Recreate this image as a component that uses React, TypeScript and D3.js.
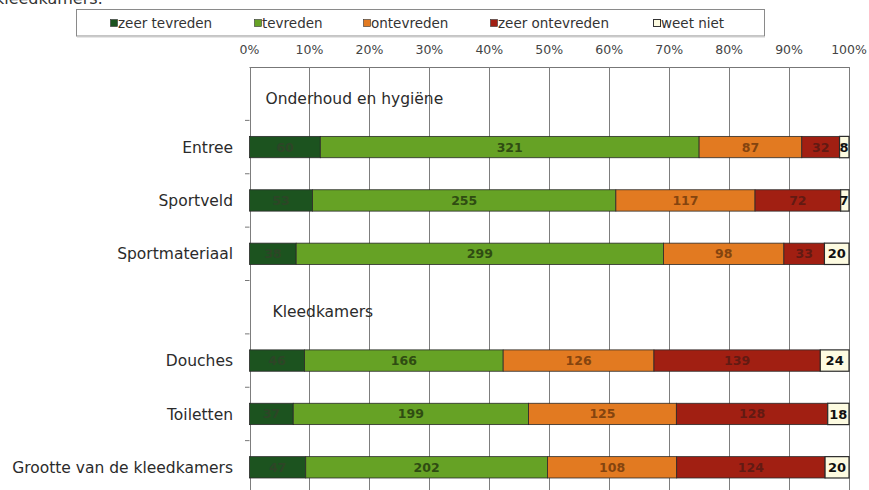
import React from "react";
import * as d3 from "d3";

const groups = ["Onderhoud en hygiëne", "Kleedkamers"];
const items = ["Entree", "Sportveld", "Sportmateriaal", "Douches", "Toiletten", "Grootte van de kleedkamers"];
const itemGroup = [0, 0, 0, 1, 1, 1];
const seriesNames = ["zeer tevreden", "tevreden", "ontevreden", "zeer ontevreden", "weet niet"];
const zeerTevreden = [60, 53, 38, 46, 37, 47];
const tevreden = [321, 255, 299, 166, 199, 202];
const ontevreden = [87, 117, 98, 126, 125, 108];
const zeerOntevreden = [32, 72, 33, 139, 128, 124];
const weetNiet = [8, 7, 20, 24, 18, 20];
const tickValues = [0, 0.1, 0.2, 0.3, 0.4, 0.5, 0.6, 0.7, 0.8, 0.9, 1];
const tickLabels = ["0%", "10%", "20%", "30%", "40%", "50%", "60%", "70%", "80%", "90%", "100%"];

const fills = ["#1c531f", "#66a225", "#e27a21", "#a11f12", "#fdfbe1"];
const labelColors = ["#2d4527", "#2f4c12", "#84440f", "#621a13", "#111111"];
const legendX = [110, 254, 363, 490, 653];
const headerIndent = [16, 23];

const W = 869;
const H = 490;
const FONT = "'DejaVu Sans', Arial, sans-serif";

export default function App() {
  const seriesData = [zeerTevreden, tevreden, ontevreden, zeerOntevreden, weetNiet];

  // rows: group header followed by its items
  const rows: { key: string; type: "header" | "item"; label: string; idx: number }[] = [];
  groups.forEach((g, gi) => {
    rows.push({ key: "g" + gi, type: "header", label: g, idx: gi });
    items.forEach((it, ii) => {
      if (itemGroup[ii] === gi) rows.push({ key: "i" + ii, type: "item", label: it, idx: ii });
    });
  });

  const x0 = 249.5;
  const x1 = 849;
  const yTop = 67;
  const yBot = 494;

  const x = d3.scaleLinear().domain([0, 1]).range([x0, x1]);
  const y = d3.scaleBand().domain(rows.map((r) => r.key)).range([yTop, yBot]).padding(0);
  const barH = y.bandwidth() * 0.4;

  const table = items.map((it, i) => {
    const o: any = { item: it };
    seriesNames.forEach((s, si) => (o[s] = seriesData[si][i]));
    return o;
  });
  const totals = items.map((_, i) => d3.sum(seriesData, (s) => s[i]));
  const stacked = d3.stack().keys(seriesNames)(table);

  const boundaries = rows.slice(1).map((r) => y(r.key) as number);

  return (
    <svg
      width={W}
      height={H}
      style={{ position: "absolute", left: 0, top: 0, background: "#fff" }}
      fontFamily={FONT}
    >
      <rect x={0} y={0} width={W} height={H} fill="#fff" />
      {/* cropped title */}
      <text x={103} y={4} textAnchor="end" fontSize={16} fill="#333">
        kleedkamers:
      </text>

      {/* legend */}
      <rect x={76.5} y={9.5} width={688} height={26.5} fill="#fff" stroke="#8a8a8a" strokeWidth={1} />
      <line x1={77} x2={765} y1={37} y2={37} stroke="#d0d0d0" strokeWidth={1} />
      {seriesNames.map((s, si) => (
        <g key={s}>
          <rect
            x={legendX[si] + 0.5}
            y={19.5}
            width={7}
            height={7}
            fill={fills[si]}
            stroke="#333"
            strokeWidth={si === 4 ? 1 : 0.6}
          />
          <text x={legendX[si] + 8} y={28} fontSize={13.5} fill="#333">
            {s}
          </text>
        </g>
      ))}

      {/* top tick labels */}
      {tickValues.map((t, i) => (
        <text key={t} x={x(t)} y={54} textAnchor="middle" fontSize={12.5} fill="#444">
          {tickLabels[i]}
        </text>
      ))}

      {/* grid */}
      <line x1={x0} x2={x1} y1={yTop + 0.5} y2={yTop + 0.5} stroke="#777" strokeWidth={1} />
      {tickValues.map((t) => (
        <line
          key={"g" + t}
          x1={Math.round(x(t)) + 0.5}
          x2={Math.round(x(t)) + 0.5}
          y1={yTop}
          y2={yBot}
          stroke="#7d7d7d"
          strokeWidth={1}
        />
      ))}
      {boundaries.map((b, i) => (
        <line key={"t" + i} x1={245} x2={x0} y1={b} y2={b} stroke="#777" strokeWidth={1} />
      ))}

      {/* row labels */}
      {rows.map((r) =>
        r.type === "header" ? (
          <text
            key={r.key}
            x={x0 + headerIndent[r.idx]}
            y={(y(r.key) as number) + y.bandwidth() / 2 + 10}
            fontSize={15.5}
            fill="#2b2b2b"
          >
            {r.label}
          </text>
        ) : (
          <text
            key={r.key}
            x={233}
            y={(y(r.key) as number) + y.bandwidth() / 2}
            dy="0.36em"
            textAnchor="end"
            fontSize={15.5}
            fill="#2b2b2b"
          >
            {r.label}
          </text>
        )
      )}

      {/* bars */}
      {stacked.map((layer, si) => (
        <g key={layer.key}>
          {layer.map((d, i) => {
            const key = "i" + i;
            const yc = (y(key) as number) + y.bandwidth() / 2;
            const xa = x(d[0] / totals[i]);
            const xb = x(d[1] / totals[i]);
            return (
              <g key={key}>
                <rect
                  x={xa}
                  y={yc - barH / 2}
                  width={xb - xa}
                  height={barH}
                  fill={fills[si]}
                  stroke="#2a2a2a"
                  strokeWidth={si === 4 ? 1.2 : 0.8}
                />
                <text
                  x={si === 4 ? Math.min((xa + xb) / 2, x1 - 5) : (xa + xb) / 2}
                  y={yc}
                  dy="0.36em"
                  textAnchor="middle"
                  fontSize={si === 4 ? 13 : 12.5}
                  fontWeight="bold"
                  fill={labelColors[si]}
                >
                  {seriesData[si][i]}
                </text>
              </g>
            );
          })}
        </g>
      ))}
    </svg>
  );
}
